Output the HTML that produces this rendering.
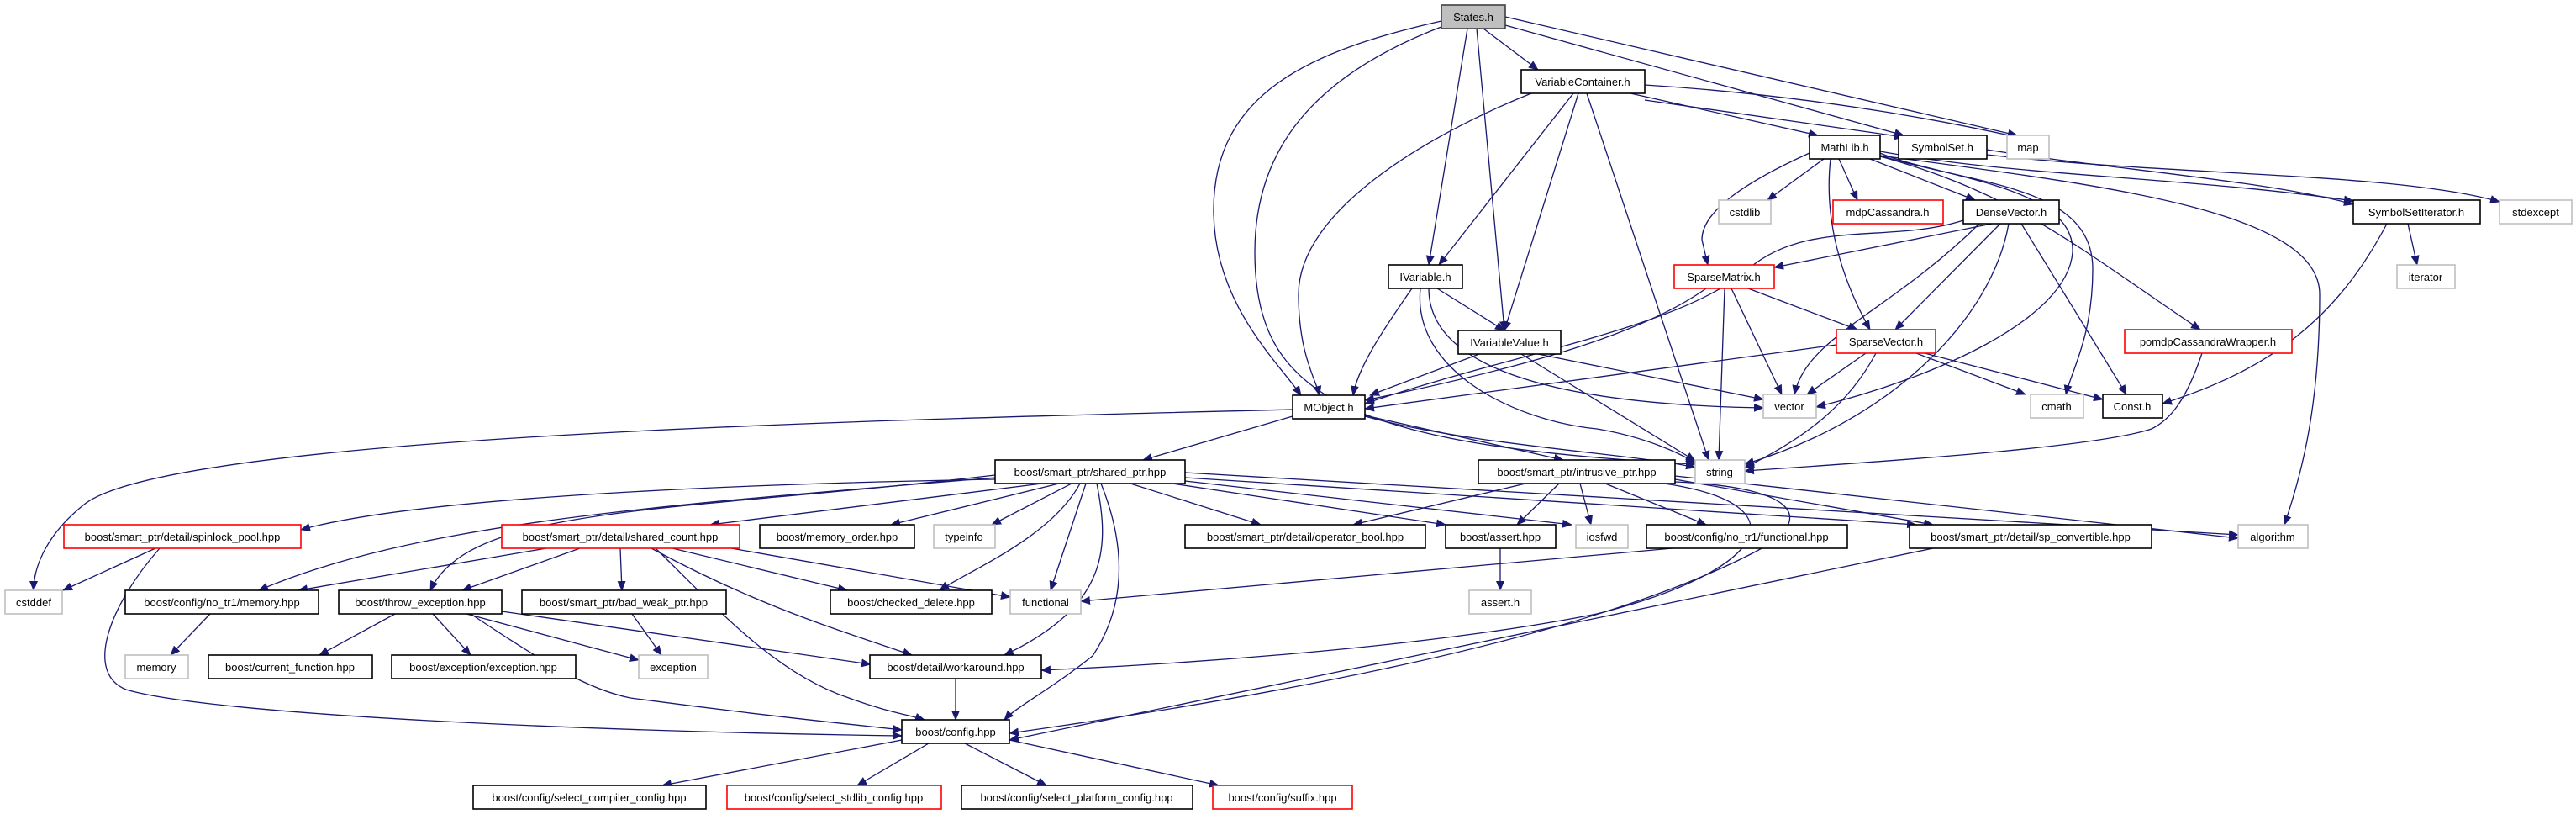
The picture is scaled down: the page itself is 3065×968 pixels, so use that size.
<!DOCTYPE html>
<html><head><meta charset="utf-8"><style>
html,body{margin:0;padding:0;background:#fff;}
svg{display:block;}
text{font-family:"Liberation Sans",sans-serif;font-size:13px;fill:#000;}
.e{fill:none;stroke:#191970;stroke-width:1.3;marker-end:url(#a);}
</style></head><body>
<svg width="3065" height="968" viewBox="0 0 3065 968" xmlns="http://www.w3.org/2000/svg">
<defs><marker id="a" markerUnits="userSpaceOnUse" markerWidth="12" markerHeight="10" refX="11" refY="5" orient="auto"><path d="M0,0 L12,5 L0,10 z" fill="#191970"/></marker></defs>
<g>
<path class="e" d="M1715,25 C1560,60 1444,110 1444,250 C1444,360 1520,430 1548,470"/>
<path class="e" d="M1720,30 C1560,90 1493,180 1493,300 C1493,470 1600,530 2017,552"/>
<path class="e" d="M1746,34 L1700,315"/>
<path class="e" d="M1757,34 L1790,393"/>
<path class="e" d="M1765,34 L1830,83"/>
<path class="e" d="M1791,30 L2265,161"/>
<path class="e" d="M1791,20 L2400,161"/>
<path class="e" d="M1822,111 C1700,160 1545,250 1545,350 C1545,420 1565,450 1570,470"/>
<path class="e" d="M1872,111 L1712,315"/>
<path class="e" d="M1878,111 L1790,393"/>
<path class="e" d="M1888,111 L2033,547"/>
<path class="e" d="M1940,111 L2163,161"/>
<path class="e" d="M1957,119 L2265,163"/>
<path class="e" d="M1957,101 C2100,110 2250,130 2400,163"/>
<path class="e" d="M2153,182 C2080,215 2025,250 2025,285 L2032,315"/>
<path class="e" d="M2170,189 L2103,238"/>
<path class="e" d="M2188,189 L2210,238"/>
<path class="e" d="M2225,189 L2350,238"/>
<path class="e" d="M2178,189 C2170,260 2190,330 2225,392"/>
<path class="e" d="M2237,182 C2300,210 2470,220 2466,300 C2460,380 2300,450 2161,484"/>
<path class="e" d="M2237,185 C2350,220 2490,220 2490,320 C2490,400 2465,440 2458,469"/>
<path class="e" d="M2237,186 C2400,230 2480,300 2618,392"/>
<path class="e" d="M2237,180 C2400,210 2600,210 2800,239"/>
<path class="e" d="M2237,185 C2500,220 2760,250 2760,350 C2760,480 2740,560 2718,624"/>
<path class="e" d="M2364,184 C2600,210 2850,205 2974,240"/>
<path class="e" d="M2364,178 C2500,200 2700,215 2800,243"/>
<path class="e" d="M2336,262 C2250,290 2150,260 2080,320 C2000,390 1800,420 1624,480"/>
<path class="e" d="M2370,266 L2111,318"/>
<path class="e" d="M2355,266 C2250,370 2150,400 2135,469"/>
<path class="e" d="M2380,266 L2255,392"/>
<path class="e" d="M2390,266 C2370,380 2250,500 2076,552"/>
<path class="e" d="M2405,266 L2530,469"/>
<path class="e" d="M2030,343 C1950,400 1800,440 1624,476"/>
<path class="e" d="M2080,343 L2210,392"/>
<path class="e" d="M2060,343 L2120,469"/>
<path class="e" d="M2052,343 L2045,547"/>
<path class="e" d="M2185,410 L1624,486"/>
<path class="e" d="M2220,420 L2150,469"/>
<path class="e" d="M2232,420 C2200,480 2150,520 2076,556"/>
<path class="e" d="M2280,420 L2410,469"/>
<path class="e" d="M2290,420 L2502,475"/>
<path class="e" d="M2620,420 C2600,480 2580,500 2560,510 C2500,530 2300,545 2076,560"/>
<path class="e" d="M2865,266 L2876,315"/>
<path class="e" d="M2840,266 C2780,380 2700,440 2573,480"/>
<path class="e" d="M1680,343 C1640,400 1615,440 1610,470"/>
<path class="e" d="M1710,343 L1790,393"/>
<path class="e" d="M1700,343 C1700,420 1800,480 2098,485"/>
<path class="e" d="M1690,343 C1680,440 1800,500 1900,510 C1960,520 2000,540 2017,550"/>
<path class="e" d="M1760,421 L1630,470"/>
<path class="e" d="M1830,421 L2098,475"/>
<path class="e" d="M1810,421 L2017,548"/>
<path class="e" d="M1538,487 C1000,500 200,520 100,600 C50,640 40,680 40,702"/>
<path class="e" d="M1538,495 L1360,547"/>
<path class="e" d="M1624,494 L1860,547"/>
<path class="e" d="M1624,495 C1750,530 1950,540 2017,556"/>
<path class="e" d="M1184,570 C900,575 500,590 358,630"/>
<path class="e" d="M1240,575 L845,624"/>
<path class="e" d="M1184,565 C800,610 560,600 512,702"/>
<path class="e" d="M1184,568 C800,600 500,620 308,702"/>
<path class="e" d="M1260,575 L1060,624"/>
<path class="e" d="M1275,575 L1180,624"/>
<path class="e" d="M1285,575 C1250,640 1150,680 1118,702"/>
<path class="e" d="M1292,575 L1250,702"/>
<path class="e" d="M1305,575 C1320,650 1320,720 1195,779"/>
<path class="e" d="M1310,575 C1340,650 1340,720 1300,780 C1250,820 1210,840 1195,856"/>
<path class="e" d="M1345,575 L1500,624"/>
<path class="e" d="M1395,575 L1720,624"/>
<path class="e" d="M1410,572 L1870,624"/>
<path class="e" d="M1410,568 L2280,624"/>
<path class="e" d="M1410,562 L2663,636"/>
<path class="e" d="M1815,575 L1610,624"/>
<path class="e" d="M1855,575 L1805,624"/>
<path class="e" d="M1880,575 L1893,624"/>
<path class="e" d="M1910,575 L2030,624"/>
<path class="e" d="M1993,570 L2300,624"/>
<path class="e" d="M1993,566 L2663,640"/>
<path class="e" d="M1980,575 C2150,600 2100,680 1900,730 C1700,770 1400,790 1239,797"/>
<path class="e" d="M1993,573 C2150,580 2150,620 2100,650 C1900,760 1500,830 1201,872"/>
<path class="e" d="M2300,652 L1201,880"/>
<path class="e" d="M1990,652 L1286,715"/>
<path class="e" d="M1785,652 L1785,702"/>
<path class="e" d="M185,652 L75,702"/>
<path class="e" d="M190,652 C130,720 100,800 150,820 C250,850 700,870 1073,875"/>
<path class="e" d="M650,652 L355,702"/>
<path class="e" d="M690,652 L550,702"/>
<path class="e" d="M738,652 L740,702"/>
<path class="e" d="M800,652 L1008,702"/>
<path class="e" d="M775,652 C900,720 1000,750 1085,779"/>
<path class="e" d="M780,652 C850,720 920,800 1010,830 C1050,845 1080,850 1100,856"/>
<path class="e" d="M870,652 L1202,710"/>
<path class="e" d="M470,730 L380,779"/>
<path class="e" d="M515,730 L560,779"/>
<path class="e" d="M555,730 L760,785"/>
<path class="e" d="M597,727 L1036,790"/>
<path class="e" d="M560,730 C650,790 700,820 750,830 C900,850 1000,860 1073,868"/>
<path class="e" d="M250,730 L203,779"/>
<path class="e" d="M752,730 L787,779"/>
<path class="e" d="M1137,807 L1137,856"/>
<path class="e" d="M1073,880 L788,934"/>
<path class="e" d="M1105,884 L1020,934"/>
<path class="e" d="M1148,884 L1245,934"/>
<path class="e" d="M1201,880 L1450,934"/>
</g>
<g stroke-width="1.6">
<rect x="1715" y="6" width="76" height="28" fill="#bfbfbf" stroke="#404040"/><text x="1753" y="25" text-anchor="middle">States.h</text>
<rect x="1810" y="83" width="147" height="28" fill="#fff" stroke="#000"/><text x="1883" y="102" text-anchor="middle">VariableContainer.h</text>
<rect x="2153" y="161" width="84" height="28" fill="#fff" stroke="#000"/><text x="2195" y="180" text-anchor="middle">MathLib.h</text>
<rect x="2259" y="161" width="105" height="28" fill="#fff" stroke="#000"/><text x="2311" y="180" text-anchor="middle">SymbolSet.h</text>
<rect x="2388" y="161" width="50" height="28" fill="#fff" stroke="#bfbfbf"/><text x="2413" y="180" text-anchor="middle">map</text>
<rect x="2045" y="238" width="62" height="28" fill="#fff" stroke="#bfbfbf"/><text x="2076" y="257" text-anchor="middle">cstdlib</text>
<rect x="2181" y="238" width="131" height="28" fill="#fff" stroke="#ff0000"/><text x="2246" y="257" text-anchor="middle">mdpCassandra.h</text>
<rect x="2336" y="238" width="114" height="28" fill="#fff" stroke="#000"/><text x="2393" y="257" text-anchor="middle">DenseVector.h</text>
<rect x="2800" y="238" width="151" height="28" fill="#fff" stroke="#000"/><text x="2875" y="257" text-anchor="middle">SymbolSetIterator.h</text>
<rect x="2974" y="238" width="86" height="28" fill="#fff" stroke="#bfbfbf"/><text x="3017" y="257" text-anchor="middle">stdexcept</text>
<rect x="1652" y="315" width="88" height="28" fill="#fff" stroke="#000"/><text x="1696" y="334" text-anchor="middle">IVariable.h</text>
<rect x="1992" y="315" width="119" height="28" fill="#fff" stroke="#ff0000"/><text x="2051" y="334" text-anchor="middle">SparseMatrix.h</text>
<rect x="2852" y="315" width="69" height="28" fill="#fff" stroke="#bfbfbf"/><text x="2886" y="334" text-anchor="middle">iterator</text>
<rect x="1735" y="393" width="122" height="28" fill="#fff" stroke="#000"/><text x="1796" y="412" text-anchor="middle">IVariableValue.h</text>
<rect x="2185" y="392" width="118" height="28" fill="#fff" stroke="#ff0000"/><text x="2244" y="411" text-anchor="middle">SparseVector.h</text>
<rect x="2528" y="392" width="199" height="28" fill="#fff" stroke="#ff0000"/><text x="2627" y="411" text-anchor="middle">pomdpCassandraWrapper.h</text>
<rect x="1538" y="470" width="86" height="28" fill="#fff" stroke="#000"/><text x="1581" y="489" text-anchor="middle">MObject.h</text>
<rect x="2098" y="469" width="63" height="28" fill="#fff" stroke="#bfbfbf"/><text x="2129" y="488" text-anchor="middle">vector</text>
<rect x="2416" y="469" width="63" height="28" fill="#fff" stroke="#bfbfbf"/><text x="2447" y="488" text-anchor="middle">cmath</text>
<rect x="2502" y="469" width="71" height="28" fill="#fff" stroke="#000"/><text x="2537" y="488" text-anchor="middle">Const.h</text>
<rect x="1184" y="547" width="226" height="28" fill="#fff" stroke="#000"/><text x="1297" y="566" text-anchor="middle">boost/smart_ptr/shared_ptr.hpp</text>
<rect x="1759" y="547" width="234" height="28" fill="#fff" stroke="#000"/><text x="1876" y="566" text-anchor="middle">boost/smart_ptr/intrusive_ptr.hpp</text>
<rect x="2017" y="547" width="59" height="28" fill="#fff" stroke="#bfbfbf"/><text x="2046" y="566" text-anchor="middle">string</text>
<rect x="76" y="624" width="282" height="28" fill="#fff" stroke="#ff0000"/><text x="217" y="643" text-anchor="middle">boost/smart_ptr/detail/spinlock_pool.hpp</text>
<rect x="597" y="624" width="283" height="28" fill="#fff" stroke="#ff0000"/><text x="738" y="643" text-anchor="middle">boost/smart_ptr/detail/shared_count.hpp</text>
<rect x="904" y="624" width="184" height="28" fill="#fff" stroke="#000"/><text x="996" y="643" text-anchor="middle">boost/memory_order.hpp</text>
<rect x="1111" y="624" width="73" height="28" fill="#fff" stroke="#bfbfbf"/><text x="1147" y="643" text-anchor="middle">typeinfo</text>
<rect x="1410" y="624" width="286" height="28" fill="#fff" stroke="#000"/><text x="1553" y="643" text-anchor="middle">boost/smart_ptr/detail/operator_bool.hpp</text>
<rect x="1720" y="624" width="131" height="28" fill="#fff" stroke="#000"/><text x="1785" y="643" text-anchor="middle">boost/assert.hpp</text>
<rect x="1875" y="624" width="62" height="28" fill="#fff" stroke="#bfbfbf"/><text x="1906" y="643" text-anchor="middle">iosfwd</text>
<rect x="1959" y="624" width="239" height="28" fill="#fff" stroke="#000"/><text x="2078" y="643" text-anchor="middle">boost/config/no_tr1/functional.hpp</text>
<rect x="2272" y="624" width="288" height="28" fill="#fff" stroke="#000"/><text x="2416" y="643" text-anchor="middle">boost/smart_ptr/detail/sp_convertible.hpp</text>
<rect x="2663" y="624" width="83" height="28" fill="#fff" stroke="#bfbfbf"/><text x="2704" y="643" text-anchor="middle">algorithm</text>
<rect x="6" y="702" width="68" height="28" fill="#fff" stroke="#bfbfbf"/><text x="40" y="721" text-anchor="middle">cstddef</text>
<rect x="149" y="702" width="230" height="28" fill="#fff" stroke="#000"/><text x="264" y="721" text-anchor="middle">boost/config/no_tr1/memory.hpp</text>
<rect x="403" y="702" width="194" height="28" fill="#fff" stroke="#000"/><text x="500" y="721" text-anchor="middle">boost/throw_exception.hpp</text>
<rect x="621" y="702" width="243" height="28" fill="#fff" stroke="#000"/><text x="742" y="721" text-anchor="middle">boost/smart_ptr/bad_weak_ptr.hpp</text>
<rect x="988" y="702" width="192" height="28" fill="#fff" stroke="#000"/><text x="1084" y="721" text-anchor="middle">boost/checked_delete.hpp</text>
<rect x="1202" y="702" width="84" height="28" fill="#fff" stroke="#bfbfbf"/><text x="1244" y="721" text-anchor="middle">functional</text>
<rect x="1748" y="702" width="74" height="28" fill="#fff" stroke="#bfbfbf"/><text x="1785" y="721" text-anchor="middle">assert.h</text>
<rect x="149" y="779" width="75" height="28" fill="#fff" stroke="#bfbfbf"/><text x="186" y="798" text-anchor="middle">memory</text>
<rect x="248" y="779" width="195" height="28" fill="#fff" stroke="#000"/><text x="345" y="798" text-anchor="middle">boost/current_function.hpp</text>
<rect x="466" y="779" width="219" height="28" fill="#fff" stroke="#000"/><text x="575" y="798" text-anchor="middle">boost/exception/exception.hpp</text>
<rect x="760" y="779" width="82" height="28" fill="#fff" stroke="#bfbfbf"/><text x="801" y="798" text-anchor="middle">exception</text>
<rect x="1035" y="779" width="204" height="28" fill="#fff" stroke="#000"/><text x="1137" y="798" text-anchor="middle">boost/detail/workaround.hpp</text>
<rect x="1073" y="856" width="128" height="28" fill="#fff" stroke="#000"/><text x="1137" y="875" text-anchor="middle">boost/config.hpp</text>
<rect x="563" y="934" width="277" height="28" fill="#fff" stroke="#000"/><text x="701" y="953" text-anchor="middle">boost/config/select_compiler_config.hpp</text>
<rect x="865" y="934" width="255" height="28" fill="#fff" stroke="#ff0000"/><text x="992" y="953" text-anchor="middle">boost/config/select_stdlib_config.hpp</text>
<rect x="1144" y="934" width="275" height="28" fill="#fff" stroke="#000"/><text x="1281" y="953" text-anchor="middle">boost/config/select_platform_config.hpp</text>
<rect x="1443" y="934" width="166" height="28" fill="#fff" stroke="#ff0000"/><text x="1526" y="953" text-anchor="middle">boost/config/suffix.hpp</text>
</g>
</svg>
</body></html>
